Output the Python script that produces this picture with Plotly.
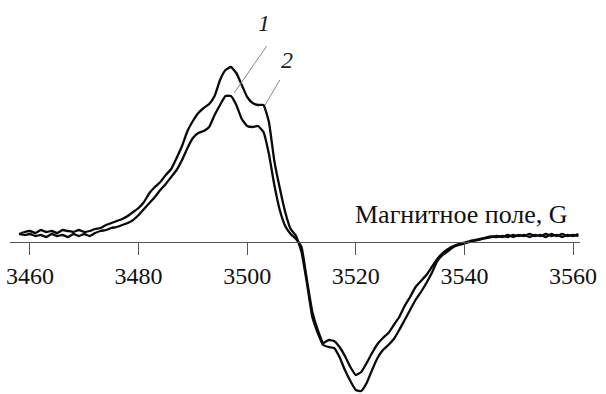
import plotly.graph_objects as go

# Magnetic field, G (common sweep for both spectra)
field = [
    3458, 3459, 3460, 3461, 3462, 3463, 3464, 3465, 3466, 3467,
    3468, 3469, 3470, 3471, 3472, 3473, 3474, 3475, 3476, 3477,
    3478, 3479, 3480, 3481, 3482, 3483, 3484, 3485, 3486, 3487,
    3488, 3489, 3490, 3491, 3492, 3493, 3494, 3495, 3496, 3497,
    3498, 3499, 3500, 3501, 3502, 3503, 3504, 3505, 3506, 3507,
    3508, 3509, 3510, 3511, 3512, 3513, 3514, 3515, 3516, 3517,
    3518, 3519, 3520, 3521, 3522, 3523, 3524, 3525, 3526, 3527,
    3528, 3529, 3530, 3531, 3532, 3533, 3534, 3535, 3536, 3537,
    3538, 3539, 3540, 3541, 3542, 3543, 3544, 3545, 3546, 3547,
    3548, 3549, 3550, 3551, 3552, 3553, 3554, 3555, 3556, 3557,
    3558, 3559, 3560, 3561,
]

# Spectrum 1 (derivative signal, arb. units)
signal_1 = [
    8, 7, 8, 6, 7, 5, 8, 6, 7, 5,
    8, 6, 8, 6, 9, 11, 12, 14, 15, 17,
    19, 22, 27, 33, 39, 45, 52, 58, 65, 72,
    82, 94, 104, 109, 111, 115, 127, 137, 146, 146,
    137, 123, 116, 115, 116, 110, 88, 57, 32, 16,
    8, 3, -5, -38, -70, -88, -101, -98, -99, -105,
    -114, -125, -133, -130, -121, -111, -102, -96, -91, -83,
    -75, -64, -55, -45, -39, -33, -25, -17, -11, -7,
    -4, -2, -0.5, 1, 2, 3, 4, 5, 6, 5,
    7, 5, 7, 6, 8, 6, 7, 5, 8, 6,
    8, 6, 7, 6,
]

# Spectrum 2 (derivative signal, arb. units)
signal_2 = [
    8, 10, 11, 9, 12, 10, 11, 9, 12, 11,
    10, 12, 10, 11, 13, 14, 17, 19, 21, 23,
    26, 30, 34, 40, 49, 55, 60, 67, 73, 84,
    96, 111, 121, 129, 134, 138, 146, 162, 172, 175,
    169, 157, 145, 139, 137, 137, 120, 81, 54, 30,
    13, 6, -10, -41, -75, -91, -103, -105, -106, -115,
    -128, -139, -148, -149, -141, -128, -116, -108, -103, -97,
    -88, -78, -68, -58, -50, -41, -31, -19, -13, -9,
    -5, -3, -1.5, 0, 1.5, 2.7, 4.5, 5.5, 5, 6,
    5, 7, 6, 7, 5, 7, 6, 8, 6, 7,
    5, 7, 6, 8,
]

x_ticks = [3460, 3480, 3500, 3520, 3540, 3560]
axis_title = "Магнитное поле, G"
curve_labels = ["1", "2"]

serif = "Liberation Serif"

fig = go.Figure()
for sig in (signal_1, signal_2):
    fig.add_trace(go.Scatter(
        x=field, y=sig, mode="lines",
        line=dict(color="#0a0a0a", width=2.3, shape="spline", smoothing=0.4),
        showlegend=False, hoverinfo="skip",
    ))

# Curve labels with thin leader lines
fig.add_annotation(x=3503.1, y=219, text="<i>" + curve_labels[0] + "</i>", showarrow=False,
                   font=dict(family=serif, size=24, color="#222222"))
fig.add_annotation(x=3507.4, y=182, text="<i>" + curve_labels[1] + "</i>", showarrow=False,
                   font=dict(family=serif, size=24, color="#222222"))
fig.add_shape(type="line", x0=3503.6, y0=196, x1=3497.6, y1=149,
              line=dict(color="#888888", width=1))
fig.add_shape(type="line", x0=3506.0, y0=162, x1=3503.3, y1=137,
              line=dict(color="#888888", width=1))

# Axis title placed above the right end of the field axis
fig.add_annotation(x=3559.5, y=28, xanchor="right", yanchor="middle",
                   text=axis_title, showarrow=False,
                   font=dict(family=serif, size=26, color="#111111"))

fig.update_layout(
    width=606, height=394,
    margin=dict(l=10, r=26, t=0, b=0),
    paper_bgcolor="white", plot_bgcolor="white",
    font=dict(family=serif),
    xaxis=dict(
        range=[3456.32, 3561.29],
        anchor="free", position=152 / 394,
        showline=True, linecolor="#555555", linewidth=1,
        ticks="outside", ticklen=12, tickcolor="#555555", tickwidth=1,
        tickvals=x_ticks,
        tickfont=dict(family=serif, size=24, color="#111111"),
        showgrid=False, zeroline=False,
    ),
    yaxis=dict(range=[-152, 242], visible=False, showgrid=False, zeroline=False),
)

fig.write_html("out.html")
